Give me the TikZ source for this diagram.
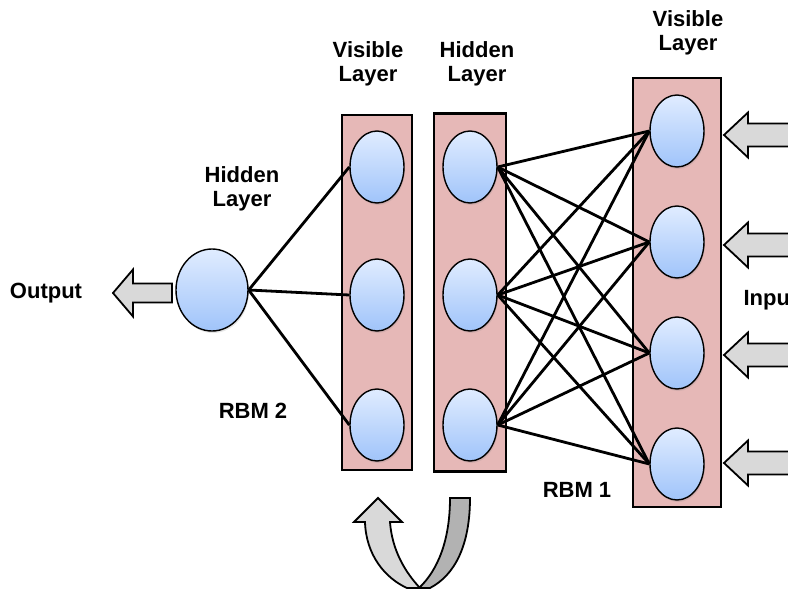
\documentclass[tikz,border=0pt]{standalone}
\usepackage{fontspec}
\setmainfont{Liberation Sans}
\usetikzlibrary{shapes.geometric,shadows}
\definecolor{layerpink}{RGB}{230,184,183}
\definecolor{unittop}{RGB}{224,236,255}
\definecolor{unitbot}{RGB}{160,196,250}
\definecolor{arrowgray}{RGB}{217,217,217}
\definecolor{bandgray}{RGB}{178,178,178}
\tikzset{
  unit/.style={ellipse, draw=black, line width=1.4pt, inner sep=0pt,
    minimum width=54pt, minimum height=72pt, top color=unittop, bottom color=unitbot,
    drop shadow={opacity=0.2, shadow xshift=1pt, shadow yshift=-2pt}},
  layerbox/.style={draw=black, line width=2.4pt, fill=layerpink, inner sep=0pt},
  lbl/.style={font=\bfseries\fontsize{22}{24}\selectfont, align=center},
  link/.style={line width=2.8pt},
  blockarrow/.style={draw=black, line width=1.8pt, fill=arrowgray, line join=miter}
}
\begin{document}
\begin{tikzpicture}[x=1pt, y=-1pt]
    \useasboundingbox (0,0) rectangle (788,589);
    % layer boxes
    \node[layerbox, minimum width=70pt, minimum height=355pt] (vbox2) at (377,292.5) {};
    \node[layerbox, minimum width=72pt, minimum height=358pt] (hbox1) at (470,292.5) {};
    \node[layerbox, minimum width=88pt, minimum height=429pt] (vbox1) at (677,292.5) {};
    % units
    \node[unit, minimum width=72pt, minimum height=82pt] (top) at (212,290) {};
    \foreach \y [count=\i] in {167,295,425} {
        \node[unit] (a\i) at (377,\y) {};
        \node[unit] (h\i) at (470,\y) {};
    }
    \foreach \y [count=\j] in {131,242,353,464}
        \node[unit] (v\j) at (677,\y) {};
    % weights
    \foreach \i in {1,2,3}
        \draw[link] (top.east) -- (a\i.west);
    \foreach \i in {1,2,3}
        \foreach \j in {1,...,4}
            \draw[link] (h\i.east) -- (v\j.west);
    % input and output arrows
    \foreach \y in {135,245,355,463}
        \draw[blockarrow, shift={(724,\y)}] (0,0) -- (24,-22.5) -- (24,-11.5) -- (80,-11.5)
            -- (80,11.5) -- (24,11.5) -- (24,22.5) -- cycle;
    \draw[blockarrow, shift={(113,293)}] (0,0) -- (20,-23.5) -- (20,-9.5) -- (59,-9.5)
        -- (59,9.5) -- (20,9.5) -- (20,23.5) -- cycle;
    % feedback arrow under RBM 2
    \draw[line width=1.8pt, fill=bandgray] (450,498) .. controls (450,540) and (438,570) .. (419,588)
        -- (430,588) .. controls (455,575) and (470,545) .. (470,498) -- cycle;
    \draw[blockarrow] (378,498) -- (402,522) -- (390,522) .. controls (392,550) and (405,572) .. (420,588)
        -- (407,588) .. controls (385,578) and (366,555) .. (365,522) -- (354,522) -- cycle;
    % labels
    \node[lbl] (vlab2) at (368,64) {Visible\\Layer};
    \node[lbl] (hlab1) at (477,64) {Hidden\\Layer};
    \node[lbl] (vlab1) at (688,33) {Visible\\Layer};
    \node[lbl] (hlab2) at (242,189) {Hidden\\Layer};
    \node[lbl] (outlab) at (46,293) {Output};
    \node[lbl, anchor=west] (inlab) at (740,300) {Input};
    \node[lbl] (rbm2) at (253,411) {RBM 2};
    \node[lbl] (rbm1) at (577,490) {RBM 1};
\end{tikzpicture}
\end{document}
